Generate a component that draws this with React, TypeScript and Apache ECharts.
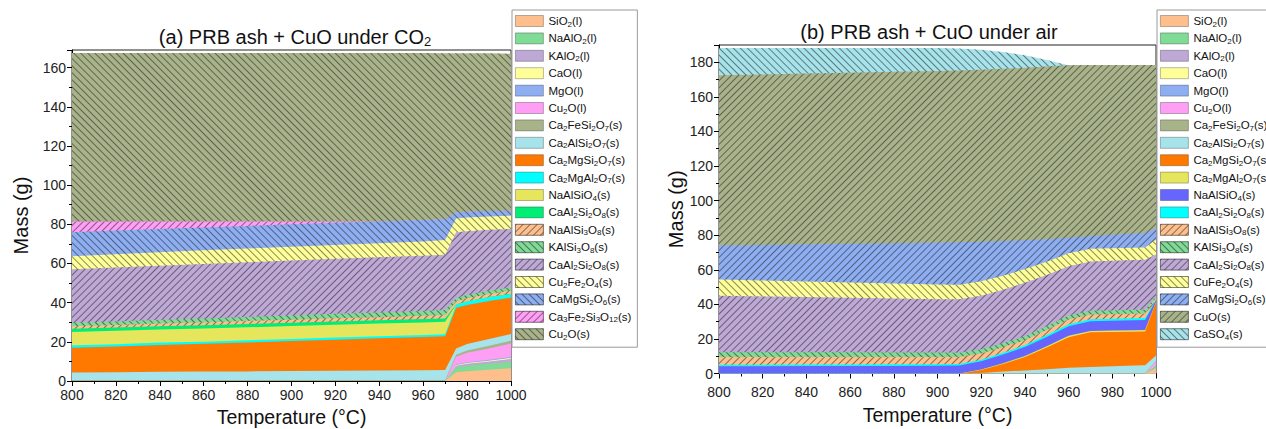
import React, { useEffect, useRef } from 'react';
import * as echarts from 'echarts';

// ---------- data: chart (a) PRB ash + CuO under CO2 ----------
const tempA = [800, 820, 840, 860, 880, 900, 920, 940, 960, 970, 975, 980, 990, 1000];

const A_SiO2_l = [0, 0, 0, 0, 0, 0, 0, 0, 0, 0, 4.5, 5.0, 5.8, 6.5];
const A_NaAlO2_l = [0, 0, 0, 0, 0, 0, 0, 0, 0, 0, 2.5, 2.8, 3.0, 3.3];
const A_KAlO2_l = [0, 0, 0, 0, 0, 0, 0, 0, 0, 0, 0.8, 1.0, 1.2, 1.5];
const A_CaO_l = [0, 0, 0, 0, 0, 0, 0, 0, 0, 0, 0.3, 0.4, 0.4, 0.5];
const A_MgO_l = [0, 0, 0, 0, 0, 0, 0, 0, 0, 0, 0.3, 0.4, 0.4, 0.5];
const A_Cu2O_l = [0, 0, 0, 0, 0, 0, 0, 0, 0, 0, 4.0, 4.8, 5.8, 6.8];
const A_Ca2FeSi2O7 = [0.5, 0.5, 0.5, 0.5, 0.5, 0.5, 0.5, 0.5, 0.5, 0.5, 1.0, 1.2, 1.4, 1.5];
const A_Ca2AlSi2O7 = [3.9, 4.0, 4.2, 4.3, 4.4, 4.6, 4.7, 4.9, 5.0, 5.1, 3.2, 3.3, 3.4, 3.4];
const A_Ca2MgSi2O7 = [12.6, 13.1, 13.7, 14.2, 14.8, 15.3, 15.9, 16.4, 17.0, 17.3, 20.8, 19.9, 19.5, 18.6];
const A_Ca2MgAl2O7 = [1.2, 1.2, 1.2, 1.1, 1.1, 1.1, 1.1, 1.0, 1.0, 1.0, 1.5, 1.6, 1.7, 1.7];
const A_NaAlSiO4 = [6.8, 6.8, 6.7, 6.7, 6.6, 6.6, 6.5, 6.5, 6.4, 6.3, 0, 0, 0, 0];
const A_CaAl2Si2O8 = [1.7, 1.7, 1.7, 1.7, 1.7, 1.7, 1.7, 1.7, 1.7, 1.7, 0.3, 0.3, 0.3, 0.3];
const A_NaAlSi3O8 = [1.3, 1.3, 1.4, 1.4, 1.5, 1.5, 1.6, 1.6, 1.7, 1.7, 1.5, 1.5, 1.5, 1.5];
const A_KAlSi3O8 = [1.7, 1.8, 1.9, 2.0, 2.1, 2.2, 2.3, 2.4, 2.5, 2.6, 1.7, 1.7, 1.7, 1.7];
const A_CaAl2Si2O8_s2 = [27.3, 27.5, 27.5, 27.8, 27.9, 28.0, 28.1, 28.2, 28.2, 28.3, 33.6, 32.6, 31.1, 29.8];
const A_Cu2Fe2O4 = [6.7, 6.8, 6.9, 7.0, 7.0, 7.0, 7.0, 7.1, 7.2, 7.5, 7.0, 7.0, 6.8, 6.8];
const A_CaMgSi2O6 = [12.3, 12.1, 11.9, 11.7, 11.6, 11.5, 11.4, 11.2, 11.0, 10.6, 3.0, 2.9, 2.8, 2.5];
const A_Ca3Fe2Si3O12 = [5.5, 4.7, 3.9, 3.1, 2.3, 1.5, 0.6, 0, 0, 0, 0, 0, 0, 0];
const A_Cu2O_s = [86.0, 86.0, 86.0, 86.0, 86.0, 86.0, 86.1, 86.0, 85.3, 84.8, 81.3, 80.9, 80.5, 80.2];

// ---------- data: chart (b) PRB ash + CuO under air ----------
const tempB = [800, 820, 840, 860, 880, 900, 910, 920, 930, 940, 950, 960, 970, 980, 990, 995, 1000];

const B_SiO2_l = [0, 0, 0, 0, 0, 0, 0, 0, 0, 0, 0, 0, 0, 0, 0, 0, 3.0];
const B_NaAlO2_l = [0, 0, 0, 0, 0, 0, 0, 0, 0, 0, 0, 0, 0, 0, 0, 0, 1.0];
const B_KAlO2_l = [0, 0, 0, 0, 0, 0, 0, 0, 0, 0, 0, 0, 0, 0, 0, 0, 1.0];
const B_CaO_l = [0, 0, 0, 0, 0, 0, 0, 0, 0, 0, 0, 0, 0, 0, 0, 0, 0.3];
const B_MgO_l = [0, 0, 0, 0, 0, 0, 0, 0, 0, 0, 0, 0, 0, 0, 0, 0, 0.3];
const B_Cu2O_l = [0, 0, 0, 0, 0, 0, 0, 0, 0, 0, 0, 0, 0, 0, 0, 0, 1.5];
const B_Ca2FeSi2O7 = [0, 0, 0, 0, 0, 0, 0, 0, 0.3, 0.3, 0.3, 0.3, 0.3, 0.3, 0.3, 0.3, 0.3];
const B_Ca2AlSi2O7 = [0, 0, 0, 0, 0, 0, 0, 0.3, 0.8, 1.5, 2.2, 3.0, 3.5, 3.9, 4.3, 4.5, 3.0];
const B_Ca2MgSi2O7 = [0, 0, 0, 0, 0, 0, 0, 1.7, 4.4, 7.7, 12.5, 17.7, 20.0, 19.8, 19.6, 19.5, 30.6];
const B_Ca2MgAl2O7 = [0, 0, 0, 0, 0, 0, 0, 0.3, 0.5, 0.6, 0.7, 0.8, 0.8, 0.8, 0.8, 0.8, 0.3];
const B_NaAlSiO4 = [4.2, 4.2, 4.3, 4.3, 4.4, 4.5, 4.6, 4.8, 5.0, 5.2, 5.4, 5.5, 5.6, 5.7, 5.8, 5.8, 1.0];
const B_CaAl2Si2O8 = [0.9, 0.9, 0.9, 0.9, 0.9, 0.9, 0.9, 0.9, 1.0, 1.0, 1.1, 1.2, 1.2, 1.2, 1.2, 1.2, 0.5];
const B_NaAlSi3O8 = [4.5, 4.5, 4.4, 4.4, 4.3, 4.2, 4.0, 3.6, 3.2, 3.0, 2.9, 2.8, 2.7, 2.6, 2.6, 2.6, 1.0];
const B_KAlSi3O8 = [2.7, 2.7, 2.7, 2.7, 2.6, 2.6, 2.5, 2.4, 2.3, 2.2, 2.2, 2.2, 2.2, 2.2, 2.2, 2.2, 1.0];
const B_CaAl2Si2O8_s2 = [32.7, 32.3, 31.9, 31.5, 31.2, 30.8, 31.0, 31.0, 31.0, 31.0, 29.7, 28.5, 28.5, 28.7, 28.8, 28.9, 24.0];
const B_CuFe2O4 = [9.3, 9.2, 9.0, 8.9, 8.7, 8.5, 8.4, 8.3, 8.1, 7.9, 7.7, 7.5, 7.3, 7.2, 7.1, 7.1, 8.7];
const B_CaMgSi2O6 = [19.7, 20.5, 21.5, 22.3, 23.2, 24.2, 24.5, 22.9, 20.0, 16.6, 12.9, 9.0, 7.4, 7.9, 8.3, 8.4, 6.5];
const B_CuO = [98.5, 98.7, 98.8, 99.0, 99.2, 99.3, 99.4, 99.5, 99.6, 99.8, 100.0, 99.8, 98.9, 98.1, 97.4, 97.1, 94.4];
const B_CaSO4 = [15.7, 15.2, 14.7, 14.2, 13.7, 13.2, 12.7, 11.6, 9.8, 7.2, 3.7, 0, 0, 0, 0, 0, 0];

// ---------- axis ticks ----------
const xMin = 800;
const xMax = 1000;
const xStep = 20;
const yStep = 20;
const yMaxA = 169;
const yMaxB = 190;

// ---------- styles ----------
const FONT = '"Liberation Sans", Arial, Helvetica, sans-serif';
const C = {
  peach: '#FFBF8C',
  lgreen: '#80DB96',
  lav: '#BEA8D6',
  lyellow: '#FFFF99',
  lblue: '#8EAEF2',
  pink: '#FF9EF5',
  olive: '#A9B38A',
  lcyan: '#A7E3EA',
  orange: '#FF7800',
  cyan: '#00FFFF',
  ygreen: '#E6E65C',
  green: '#00EE76',
  violet: '#6666FF',
};

const HATCH: Record<string, any> = {
  '/': {
    symbol: 'rect', symbolSize: 1, color: 'rgba(20,20,20,0.5)',
    dashArrayX: [10, 0], dashArrayY: [1, 4], rotation: -Math.PI / 4,
  },
  '\\': {
    symbol: 'rect', symbolSize: 1, color: 'rgba(20,20,20,0.5)',
    dashArrayX: [10, 0], dashArrayY: [1, 4], rotation: Math.PI / 4,
  },
};

type Spec = { label: string; data: number[]; color: string; hatch?: string };

const specsA: Spec[] = [
  { label: 'SiO_2(l)', data: A_SiO2_l, color: C.peach },
  { label: 'NaAlO_2(l)', data: A_NaAlO2_l, color: C.lgreen },
  { label: 'KAlO_2(l)', data: A_KAlO2_l, color: C.lav },
  { label: 'CaO(l)', data: A_CaO_l, color: C.lyellow },
  { label: 'MgO(l)', data: A_MgO_l, color: C.lblue },
  { label: 'Cu_2O(l)', data: A_Cu2O_l, color: C.pink },
  { label: 'Ca_2FeSi_2O_7(s)', data: A_Ca2FeSi2O7, color: C.olive },
  { label: 'Ca_2AlSi_2O_7(s)', data: A_Ca2AlSi2O7, color: C.lcyan },
  { label: 'Ca_2MgSi_2O_7(s)', data: A_Ca2MgSi2O7, color: C.orange },
  { label: 'Ca_2MgAl_2O_7(s)', data: A_Ca2MgAl2O7, color: C.cyan },
  { label: 'NaAlSiO_4(s)', data: A_NaAlSiO4, color: C.ygreen },
  { label: 'CaAl_2Si_2O_8(s)', data: A_CaAl2Si2O8, color: C.green },
  { label: 'NaAlSi_3O_8(s)', data: A_NaAlSi3O8, color: C.peach, hatch: '/' },
  { label: 'KAlSi_3O_8(s)', data: A_KAlSi3O8, color: C.lgreen, hatch: '\\' },
  { label: 'CaAl_2Si_2O_8(s)', data: A_CaAl2Si2O8_s2, color: C.lav, hatch: '/' },
  { label: 'Cu_2Fe_2O_4(s)', data: A_Cu2Fe2O4, color: C.lyellow, hatch: '\\' },
  { label: 'CaMgSi_2O_6(s)', data: A_CaMgSi2O6, color: C.lblue, hatch: '\\' },
  { label: 'Ca_3Fe_2Si_3O_12(s)', data: A_Ca3Fe2Si3O12, color: C.pink, hatch: '/' },
  { label: 'Cu_2O(s)', data: A_Cu2O_s, color: C.olive, hatch: '\\' },
];

const specsB: Spec[] = [
  { label: 'SiO_2(l)', data: B_SiO2_l, color: C.peach },
  { label: 'NaAlO_2(l)', data: B_NaAlO2_l, color: C.lgreen },
  { label: 'KAlO_2(l)', data: B_KAlO2_l, color: C.lav },
  { label: 'CaO(l)', data: B_CaO_l, color: C.lyellow },
  { label: 'MgO(l)', data: B_MgO_l, color: C.lblue },
  { label: 'Cu_2O(l)', data: B_Cu2O_l, color: C.pink },
  { label: 'Ca_2FeSi_2O_7(s)', data: B_Ca2FeSi2O7, color: C.olive },
  { label: 'Ca_2AlSi_2O_7(s)', data: B_Ca2AlSi2O7, color: C.lcyan },
  { label: 'Ca_2MgSi_2O_7(s)', data: B_Ca2MgSi2O7, color: C.orange },
  { label: 'Ca_2MgAl_2O_7(s)', data: B_Ca2MgAl2O7, color: C.ygreen },
  { label: 'NaAlSiO_4(s)', data: B_NaAlSiO4, color: C.violet },
  { label: 'CaAl_2Si_2O_8(s)', data: B_CaAl2Si2O8, color: C.cyan },
  { label: 'NaAlSi_3O_8(s)', data: B_NaAlSi3O8, color: C.peach, hatch: '/' },
  { label: 'KAlSi_3O_8(s)', data: B_KAlSi3O8, color: C.lgreen, hatch: '\\' },
  { label: 'CaAl_2Si_2O_8(s)', data: B_CaAl2Si2O8_s2, color: C.lav, hatch: '/' },
  { label: 'CuFe_2O_4(s)', data: B_CuFe2O4, color: C.lyellow, hatch: '\\' },
  { label: 'CaMgSi_2O_6(s)', data: B_CaMgSi2O6, color: C.lblue, hatch: '/' },
  { label: 'CuO(s)', data: B_CuO, color: C.olive, hatch: '/' },
  { label: 'CaSO_4(s)', data: B_CaSO4, color: C.lcyan, hatch: '\\' },
];

const sub = (s: string) => s.replace(/_(\d+)/g, '{s|$1}');

const labelMap: Record<string, string> = {};
specsA.forEach((s, i) => (labelMap['a' + i] = s.label));
specsB.forEach((s, i) => (labelMap['b' + i] = s.label));

// Cumulative tops of each layer (stack built here; drawn top-layer first so that
// lower layers paint over the higher ones)
function buildSeries(specs: Spec[], temps: number[], gi: number, prefix: string) {
  const acc = temps.map(() => 0);
  const tops = specs.map((s) =>
    s.data.map((v, j) => {
      acc[j] = Math.round((acc[j] + v) * 1000) / 1000;
      return acc[j];
    })
  );
  const out: any[] = [];
  for (let i = specs.length - 1; i >= 0; i--) {
    const s = specs[i];
    const decal = s.hatch ? HATCH[s.hatch] : undefined;
    out.push({
      type: 'line',
      name: prefix + i,
      xAxisIndex: gi,
      yAxisIndex: gi,
      data: temps.map((t, j) => [t, tops[i][j]]),
      symbol: 'none',
      showSymbol: false,
      color: s.color,
      lineStyle: { width: 0, color: s.color, decal },
      itemStyle: { color: s.color, decal },
      areaStyle: { color: s.color, opacity: 1, origin: 'start' },
      emphasis: { disabled: true },
      silent: true,
      z: 2,
    });
  }
  return out;
}

function xAxis(gi: number, nameGap: number, margin: number) {
  return {
    gridIndex: gi,
    type: 'value',
    min: xMin,
    max: xMax,
    interval: xStep,
    axisLine: { show: true, onZero: false, lineStyle: { color: '#000', width: 1 } },
    axisTick: { show: true, length: 5, lineStyle: { color: '#000' } },
    minorTick: { show: true, splitNumber: 2, length: 3, lineStyle: { color: '#000' } },
    splitLine: { show: false },
    minorSplitLine: { show: false },
    axisLabel: { fontFamily: FONT, fontSize: 14, color: '#222', margin, formatter: (v: number) => String(v) },
    name: 'Temperature (°C)',
    nameLocation: 'middle',
    nameGap,
    nameTextStyle: { fontFamily: FONT, fontSize: 19.5, color: '#111' },
  };
}

function yAxis(gi: number, max: number, nameGap: number) {
  return {
    gridIndex: gi,
    type: 'value',
    min: 0,
    max,
    interval: yStep,
    axisLine: { show: true, onZero: false, lineStyle: { color: '#000', width: 1 } },
    axisTick: { show: true, length: 5, lineStyle: { color: '#000' } },
    minorTick: { show: true, splitNumber: 2, length: 3, lineStyle: { color: '#000' } },
    splitLine: { show: false },
    minorSplitLine: { show: false },
    axisLabel: {
      fontFamily: FONT, fontSize: 14, color: '#222', margin: 6, showMaxLabel: false,
      formatter: (v: number) => (v % yStep === 0 ? String(v) : ''),
    },
    name: 'Mass (g)',
    nameLocation: 'middle',
    nameGap,
    nameTextStyle: { fontFamily: FONT, fontSize: 20, color: '#111' },
  };
}

function legend(prefix: string, specs: Spec[], left: number, top: number) {
  return {
    orient: 'vertical',
    left,
    top,
    data: specs.map((_, i) => prefix + i),
    icon: 'rect',
    itemWidth: 28,
    itemHeight: 11,
    itemGap: 3.4,
    padding: [4, 6, 6, 3],
    backgroundColor: '#fff',
    borderColor: '#9a9a9a',
    borderWidth: 1,
    selectedMode: false,
    formatter: (n: string) => sub(labelMap[n]),
    itemStyle: { borderWidth: 0.8, borderColor: 'rgba(0,0,0,0.35)' },
    textStyle: {
      fontFamily: FONT, fontSize: 11.5, color: '#111', lineHeight: 14,
      rich: { s: { fontFamily: FONT, fontSize: 8, color: '#111', verticalAlign: 'bottom', padding: [6, 0, 0, 0] } },
    },
  };
}

function titleText(text: string, x: number, y: number) {
  return {
    type: 'text',
    x,
    y,
    style: {
      text: sub(text),
      fontFamily: FONT,
      fontSize: 20,
      fill: '#111',
      align: 'center',
      verticalAlign: 'middle',
      rich: { s: { fontFamily: FONT, fontSize: 13, fill: '#111', verticalAlign: 'bottom', padding: [9, 0, 0, 0] } },
    },
  };
}

const option: any = {
  animation: false,
  grid: [
    { left: 72, top: 50, width: 439, height: 331, show: true, borderColor: '#222', borderWidth: 1, outerBoundsMode: 'none', containLabel: false },
    { left: 719, top: 45, width: 437, height: 328.5, show: true, borderColor: '#222', borderWidth: 1, outerBoundsMode: 'none', containLabel: false },
  ],
  xAxis: [xAxis(0, 25.5, 7), xAxis(1, 31, 11)],
  yAxis: [yAxis(0, yMaxA, 41), yAxis(1, yMaxB, 32)],
  legend: [legend('a', specsA, 512, 10), legend('b', specsB, 1157, 10)],
  graphic: [
    titleText('(a) PRB ash + CuO under CO_2', 295, 37),
    titleText('(b) PRB ash + CuO under air', 929, 32),
  ],
  series: [...buildSeries(specsA, tempA, 0, 'a'), ...buildSeries(specsB, tempB, 1, 'b')],
};

export default function App() {
  const ref = useRef<HTMLDivElement>(null);
  useEffect(() => {
    const chart = echarts.init(ref.current!, null, { renderer: 'svg' });
    chart.setOption(option);
    return () => chart.dispose();
  }, []);
  return (
    <div
      ref={ref}
      style={{ position: 'fixed', left: 0, top: 0, width: 1266, height: 429, background: '#fff' }}
    />
  );
}
